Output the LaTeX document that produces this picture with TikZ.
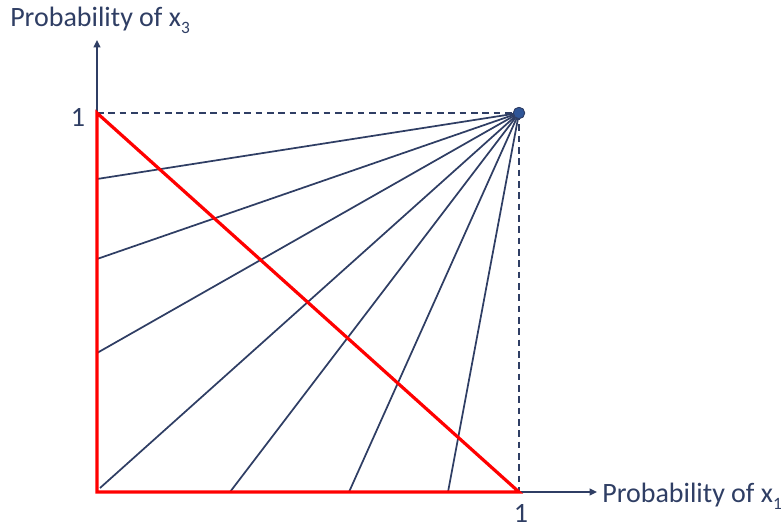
\documentclass[tikz,border=0pt]{standalone}
\usepackage{fontspec}
\setmainfont{Carlito}
\usetikzlibrary{arrows.meta}
\definecolor{navy}{RGB}{47,62,100}
\definecolor{dotblue}{RGB}{47,85,151}
\newcommand{\lowsub}[1]{\raisebox{-0.28em}{\fontsize{13}{13}\selectfont #1}}

\begin{document}
\begin{tikzpicture}[
        x=0.75pt, y=-0.75pt,
        axis/.style={draw=navy, line width=1.2pt, -{Triangle[length=5.5pt, width=5pt]}},
        ray/.style={draw=navy, line width=1.3pt},
        guide/.style={draw=navy, line width=1.2pt, dash pattern=on 5pt off 3.5pt},
        simplex/.style={draw=red, line width=2.4pt, line join=miter},
        dot/.style={circle, fill=dotblue, draw=navy, line width=0.6pt, minimum size=8.5pt, inner sep=0pt},
        lbl/.style={text=navy, font=\fontsize{21}{24}\selectfont, inner sep=0pt}
    ]
        \useasboundingbox (0,0) rectangle (781,529);

        \coordinate (o) at (97,492);
        \coordinate (e1) at (519,492);
        \coordinate (e3) at (97,113);
        \coordinate (xend) at (597,492);
        \coordinate (yend) at (97,40);
        \node[dot] (p) at (519,113) {};

        % axes and guides
        \draw[axis] (e1) -- (xend);
        \draw[axis] (e3) -- (yend);
        \draw[guide] (e3) -- (p.center);
        \draw[guide] (p.center) -- (e1);

        % rays from the corner point
        \coordinate (a1) at (97,179);
        \coordinate (a2) at (97,259);
        \coordinate (a3) at (97,353);
        \coordinate (a4) at (100,488);
        \coordinate (b1) at (230,492);
        \coordinate (b2) at (349,492);
        \coordinate (b3) at (448,492);
        \draw[ray] (p.center) -- (a1);
        \draw[ray] (p.center) -- (a2);
        \draw[ray] (p.center) -- (a3);
        \draw[ray] (p.center) -- (a4);
        \draw[ray] (p.center) -- (b1);
        \draw[ray] (p.center) -- (b2);
        \draw[ray] (p.center) -- (b3);

        % simplex
        \draw[simplex] (e3) -- (o) -- (e1) -- cycle;

        % labels
        \node[lbl, anchor=base west] (ylabel) at (10,26) {Probability of x\lowsub{3}};
        \node[lbl, anchor=base west] (xlabel) at (602,502) {Probability of x\lowsub{1}};
        \node[lbl, anchor=base] (yone) at (78,126) {1};
        \node[lbl, anchor=base] (xone) at (521,522) {1};
        \node[dot] at (p) {};
    \end{tikzpicture}
\end{document}
